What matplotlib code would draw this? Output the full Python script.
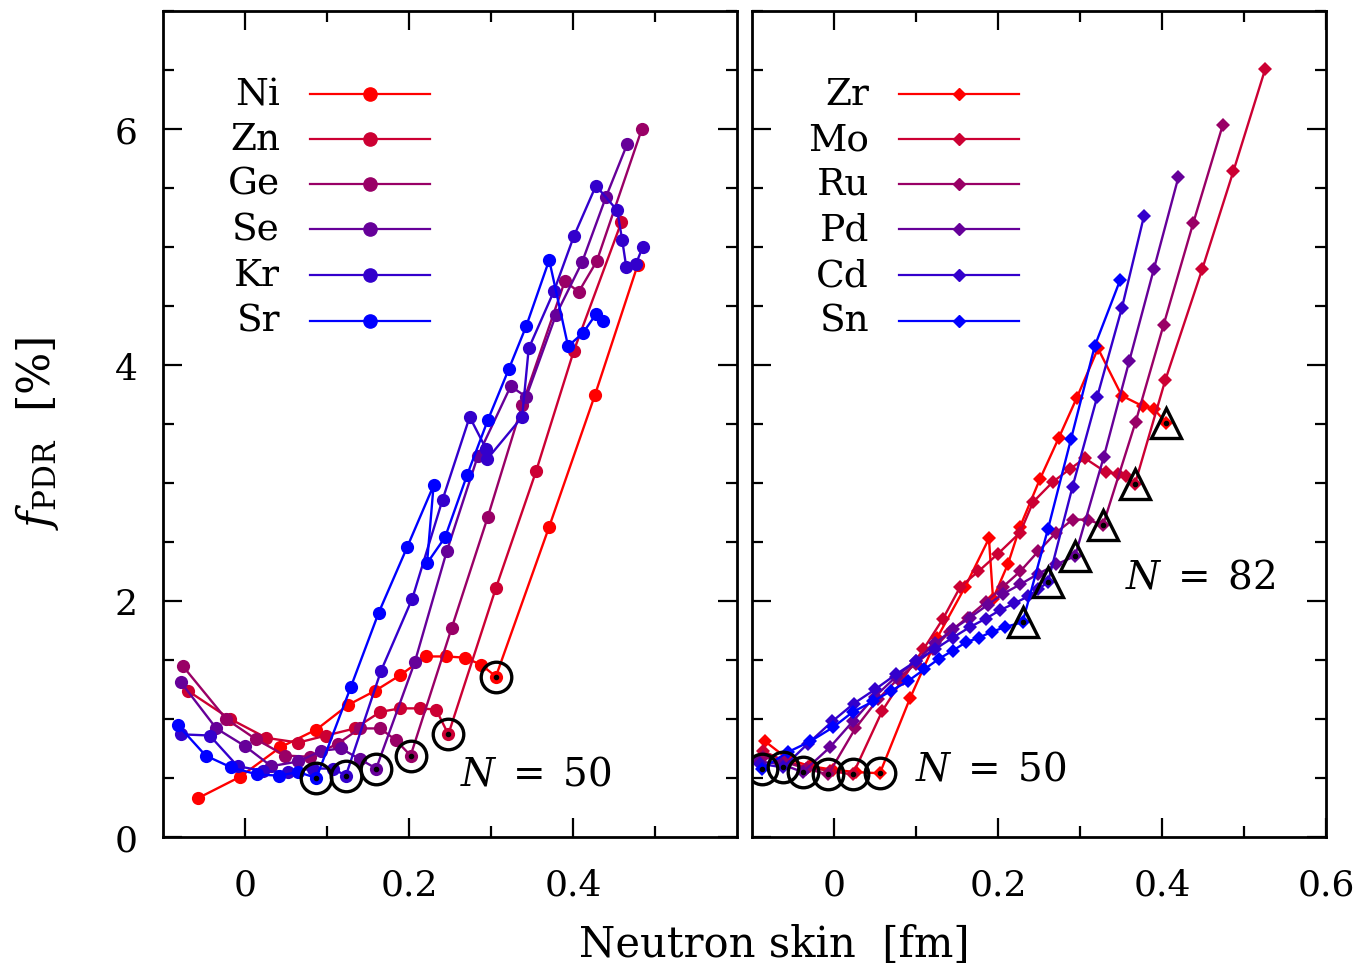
import matplotlib
matplotlib.use("Agg")
import matplotlib.pyplot as plt
from matplotlib.ticker import MultipleLocator, FixedLocator

plt.rcParams['font.family'] = ['DejaVu Serif']
plt.rcParams['mathtext.fontset'] = 'dejavuserif'

# ---- left panel: N = 50 region isotopic chains ----
left_names = ["Ni", "Zn", "Ge", "Se", "Kr", "Sr"]
ni_x = [-0.057, -0.006, 0.043, 0.087, 0.126, 0.159, 0.189, 0.221, 0.245, 0.268, 0.288, 0.306, 0.371, 0.427, 0.479]
ni_y = [0.33, 0.51, 0.76, 0.91, 1.12, 1.24, 1.37, 1.53, 1.53, 1.52, 1.46, 1.36, 2.63, 3.75, 4.85]
zn_x = [-0.070, -0.018, 0.026, 0.065, 0.099, 0.134, 0.165, 0.189, 0.213, 0.233, 0.248, 0.306, 0.355, 0.401, 0.459]
zn_y = [1.24, 1.00, 0.84, 0.80, 0.86, 0.92, 1.06, 1.09, 1.09, 1.08, 0.87, 2.11, 3.10, 4.12, 5.21]
ge_x = [-0.076, -0.023, 0.013, 0.049, 0.079, 0.113, 0.140, 0.165, 0.184, 0.202, 0.252, 0.296, 0.338, 0.390, 0.407, 0.429, 0.484]
ge_y = [1.45, 1.00, 0.83, 0.69, 0.68, 0.79, 0.92, 0.92, 0.82, 0.69, 1.77, 2.71, 3.66, 4.71, 4.62, 4.88, 6.00]
se_x = [-0.078, -0.035, 0.000, 0.032, 0.065, 0.093, 0.117, 0.140, 0.160, 0.207, 0.246, 0.284, 0.324, 0.343, 0.379, 0.411, 0.440, 0.466]
se_y = [1.31, 0.92, 0.77, 0.60, 0.64, 0.73, 0.75, 0.66, 0.58, 1.48, 2.42, 3.23, 3.82, 3.73, 4.42, 4.87, 5.42, 5.87]
kr_x = [-0.078, -0.043, -0.009, 0.022, 0.052, 0.083, 0.107, 0.123, 0.166, 0.204, 0.241, 0.274, 0.294, 0.295,
        0.338, 0.346, 0.377, 0.401, 0.428, 0.454, 0.460, 0.465, 0.477, 0.485]
kr_y = [0.87, 0.86, 0.60, 0.56, 0.55, 0.58, 0.58, 0.52, 1.41, 2.02, 2.86, 3.56, 3.29, 3.20,
        3.56, 4.14, 4.63, 5.09, 5.52, 5.31, 5.06, 4.83, 4.86, 5.00]
sr_x = [-0.082, -0.048, -0.017, 0.015, 0.041, 0.065, 0.087, 0.129, 0.163, 0.198, 0.230, 0.222, 0.244, 0.271,
        0.296, 0.322, 0.343, 0.371, 0.394, 0.412, 0.428, 0.437]
sr_y = [0.95, 0.69, 0.59, 0.53, 0.52, 0.55, 0.50, 1.27, 1.90, 2.46, 2.98, 2.32, 2.54, 3.07,
        3.53, 3.97, 4.33, 4.89, 4.16, 4.27, 4.43, 4.37]
left_x = [ni_x, zn_x, ge_x, se_x, kr_x, sr_x]
left_y = [ni_y, zn_y, ge_y, se_y, kr_y, sr_y]
left_n50 = [11, 10, 9, 8, 7, 6]   # position of the N = 50 isotope in each chain

# ---- right panel: N = 50 and N = 82 chains ----
right_names = ["Zr", "Mo", "Ru", "Pd", "Cd", "Sn"]
zr_x = [-0.084, -0.056, -0.029, -0.001, 0.027, 0.056, 0.093, 0.126, 0.160, 0.189, 0.194, 0.212, 0.227, 0.251,
        0.274, 0.296, 0.322, 0.351, 0.377, 0.390, 0.405]
zr_y = [0.81, 0.66, 0.60, 0.57, 0.55, 0.54, 1.18, 1.69, 2.12, 2.53, 2.02, 2.31, 2.63, 3.03,
        3.38, 3.72, 4.14, 3.74, 3.65, 3.63, 3.51]
mo_x = [-0.087, -0.059, -0.032, -0.005, 0.023, 0.059, 0.084, 0.109, 0.133, 0.154, 0.176, 0.200, 0.227, 0.243,
        0.267, 0.288, 0.306, 0.332, 0.346, 0.356, 0.367, 0.404, 0.449, 0.487, 0.526]
mo_y = [0.73, 0.64, 0.59, 0.56, 0.53, 1.07, 1.34, 1.59, 1.85, 2.12, 2.25, 2.40, 2.58, 2.84,
        3.01, 3.12, 3.21, 3.09, 3.08, 3.06, 2.99, 3.87, 4.81, 5.64, 6.51]
ru_x = [-0.087, -0.062, -0.034, -0.007, 0.026, 0.054, 0.078, 0.100, 0.121, 0.141, 0.163, 0.185, 0.206, 0.227,
        0.249, 0.271, 0.291, 0.310, 0.328, 0.368, 0.402, 0.438, 0.474]
ru_y = [0.68, 0.64, 0.58, 0.53, 0.92, 1.17, 1.34, 1.47, 1.59, 1.74, 1.86, 1.99, 2.12, 2.25,
        2.42, 2.58, 2.69, 2.69, 2.64, 3.52, 4.34, 5.20, 6.03]
pd_x = [-0.093, -0.065, -0.038, -0.005, 0.023, 0.050, 0.076, 0.100, 0.123, 0.145, 0.166, 0.188, 0.206, 0.227,
        0.249, 0.271, 0.294, 0.329, 0.360, 0.390, 0.420]
pd_y = [0.64, 0.62, 0.55, 0.76, 0.98, 1.19, 1.36, 1.49, 1.64, 1.76, 1.86, 1.97, 2.06, 2.14,
        2.23, 2.31, 2.38, 3.22, 4.03, 4.81, 5.59]
cd_x = [-0.090, -0.062, -0.032, -0.002, 0.024, 0.050, 0.076, 0.100, 0.123, 0.145, 0.166, 0.185, 0.202, 0.220,
        0.237, 0.249, 0.261, 0.291, 0.321, 0.351, 0.378]
cd_y = [0.62, 0.59, 0.79, 0.98, 1.13, 1.25, 1.38, 1.49, 1.59, 1.69, 1.78, 1.85, 1.92, 1.98,
        2.04, 2.10, 2.16, 2.97, 3.73, 4.48, 5.26]
sn_x = [-0.088, -0.056, -0.029, -0.001, 0.023, 0.048, 0.070, 0.090, 0.110, 0.128, 0.145, 0.161, 0.177, 0.193,
        0.209, 0.230, 0.261, 0.289, 0.318, 0.349]
sn_y = [0.58, 0.72, 0.81, 0.93, 1.06, 1.15, 1.24, 1.32, 1.42, 1.51, 1.58, 1.65, 1.69, 1.74,
        1.78, 1.82, 2.61, 3.37, 4.16, 4.72]
right_x = [zr_x, mo_x, ru_x, pd_x, cd_x, sn_x]
right_y = [zr_y, mo_y, ru_y, pd_y, cd_y, sn_y]
right_n50 = [5, 4, 3, 2, 1, 0]
right_n82 = [20, 20, 18, 16, 16, 15]

# red -> blue colour ramp shared by both panels
colors = ["#ff0000", "#cc0033", "#990066", "#660099", "#3300cc", "#0000ff"]

fig = plt.figure(figsize=(13.64, 9.70), dpi=100)
ax1 = fig.add_axes([0.1195, 0.1361, 0.4208, 0.8515])
ax2 = fig.add_axes([0.5513, 0.1361, 0.4208, 0.8515])

FS_TICK = 26
FS_LEG = 27
FS_TXT = 28


def style_axes(ax, xticks, show_ylabels):
    ax.set_xlim(-0.1, 0.6)
    ax.set_ylim(0, 7)
    ax.xaxis.set_major_locator(FixedLocator(xticks))
    ax.xaxis.set_minor_locator(FixedLocator([0.1, 0.3, 0.5]))
    ax.yaxis.set_major_locator(MultipleLocator(2))
    ax.yaxis.set_minor_locator(MultipleLocator(0.5))
    ax.tick_params(which='both', direction='in', top=True, right=True, width=1.6,
                   labelsize=FS_TICK)
    ax.tick_params(axis='x', which='both', pad=22)
    ax.tick_params(axis='y', which='both', pad=18)
    ax.tick_params(which='major', length=14)
    ax.tick_params(which='minor', length=8)
    ax.xaxis.set_major_formatter(plt.FuncFormatter(lambda v, p: "0" if abs(v) < 1e-9 else f"{v:g}"))
    if not show_ylabels:
        ax.tick_params(axis='y', labelleft=False)
    for s in ax.spines.values():
        s.set_linewidth(2.0)


def legend_rows(ax, names, marker, ms):
    ys = [0.8995, 0.845, 0.7906, 0.736, 0.680, 0.625]
    for name, c, yy in zip(names, colors, ys):
        ax.plot([0.256, 0.465], [yy, yy], color=c, lw=1.6, transform=ax.transAxes, clip_on=False)
        ax.plot([0.361], [yy], marker=marker, ms=ms, color=c, transform=ax.transAxes, clip_on=False)
        ax.text(0.204, yy, name, ha='right', va='center', fontsize=FS_LEG, transform=ax.transAxes)


style_axes(ax1, [0, 0.2, 0.4], True)
style_axes(ax2, [0, 0.2, 0.4, 0.6], False)

for xs, ys, c in zip(left_x, left_y, colors):
    ax1.plot(xs, ys, '-o', color=c, lw=1.7, ms=9.5, mew=0)
for xs, ys, k in zip(left_x, left_y, left_n50):
    ax1.plot([xs[k]], [ys[k]], 'o', ms=22, mfc='none', mec='k', mew=2.4)
    ax1.plot([xs[k]], [ys[k]], 'o', ms=3, color='k')

for xs, ys, c in zip(right_x, right_y, colors):
    ax2.plot(xs, ys, '-D', color=c, lw=1.7, ms=7.5, mew=0)
for xs, ys, k5, k8 in zip(right_x, right_y, right_n50, right_n82):
    ax2.plot([xs[k5]], [ys[k5]], 'o', ms=22, mfc='none', mec='k', mew=2.4)
    ax2.plot([xs[k5]], [ys[k5]], 'o', ms=3, color='k')
    ax2.plot([xs[k8]], [ys[k8]], '^', ms=22, mfc='none', mec='k', mew=2.4)
    ax2.plot([xs[k8]], [ys[k8]], 'o', ms=3, color='k')

legend_rows(ax1, left_names, 'o', 9.5)
legend_rows(ax2, right_names, 'D', 6.5)

ax1.text(0.262, 0.53, r'$N\;=\;50$', fontsize=FS_TXT, va='center', ha='left')
ax2.text(0.099, 0.58, r'$N\;=\;50$', fontsize=FS_TXT, va='center', ha='left')
ax2.text(0.355, 2.2, r'$N\;=\;82$', fontsize=FS_TXT, va='center', ha='left')

ax1.set_ylabel(r'$f_{\mathrm{PDR}}$  [%]', fontsize=32)
ax1.yaxis.set_label_coords(-0.178, 0.49)
fig.text(0.568, 0.026, 'Neutron skin  [fm]', fontsize=30, ha='center', va='center')

fig.savefig("out.png", dpi=100)
